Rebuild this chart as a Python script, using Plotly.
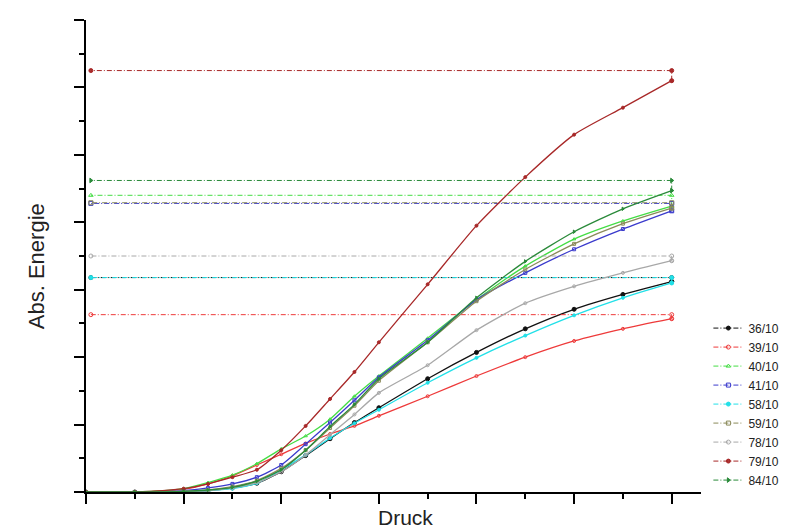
import plotly.graph_objects as go

# Druck (x) sample positions
druck = [0, 0.5, 1.0, 1.25, 1.5, 1.75, 2.0, 2.25, 2.5, 2.75, 3.0, 3.5, 4.0, 4.5, 5.0, 5.5, 6.0]

names = ["36/10", "39/10", "40/10", "41/10", "58/10", "59/10", "78/10", "79/10", "84/10"]

e36 = [0, 0, 0, 0.02, 0.06, 0.13, 0.30, 0.54, 0.79, 1.03, 1.25, 1.68, 2.07, 2.42, 2.71, 2.93, 3.12]
e39 = [0, 0, 0.04, 0.12, 0.24, 0.40, 0.56, 0.72, 0.86, 0.98, 1.13, 1.42, 1.72, 2.00, 2.24, 2.42, 2.57]
e40 = [0, 0, 0.05, 0.14, 0.25, 0.42, 0.64, 0.83, 1.08, 1.42, 1.72, 2.28, 2.85, 3.35, 3.75, 4.02, 4.24]
e41 = [0, 0, 0.02, 0.06, 0.12, 0.22, 0.40, 0.71, 1.03, 1.36, 1.70, 2.25, 2.85, 3.25, 3.60, 3.90, 4.17]
e58 = [0, 0, 0, 0.02, 0.05, 0.13, 0.33, 0.55, 0.80, 1.02, 1.22, 1.62, 1.99, 2.32, 2.62, 2.88, 3.10]
e59 = [0, 0, 0.01, 0.03, 0.08, 0.17, 0.35, 0.62, 0.95, 1.28, 1.65, 2.22, 2.83, 3.30, 3.68, 3.98, 4.21]
e78 = [0, 0, 0.01, 0.02, 0.06, 0.14, 0.30, 0.55, 0.85, 1.15, 1.47, 1.88, 2.40, 2.80, 3.05, 3.25, 3.43]
e79 = [0, 0, 0.05, 0.12, 0.22, 0.33, 0.62, 0.98, 1.38, 1.78, 2.22, 3.08, 3.95, 4.67, 5.30, 5.70, 6.10]
e84 = [0, 0, 0.01, 0.03, 0.07, 0.16, 0.33, 0.62, 0.97, 1.30, 1.68, 2.22, 2.88, 3.42, 3.86, 4.20, 4.47]

# horizontal reference levels
levels = [3.18, 2.63, 4.40, 4.28, 3.18, 4.29, 3.50, 6.25, 4.62]
level_start = 0.05

series = [e36, e39, e40, e41, e58, e59, e78, e79, e84]
colors = ["#111111", "#ee3a3a", "#44dd44", "#3a3acc", "#22e0e8", "#8a8a5a", "#a8a8a8", "#a82828", "#2a8a3a"]
symbols = ["circle", "circle-open", "triangle-up-open", "square-open", "circle", "square-open",
           "circle-open", "circle-dot", "triangle-right"]
curve_marker_size = [4, 3, 3, 3, 3, 3, 3, 3, 3]

fig = go.Figure()
for name, vals, lvl, col, sym, msz in zip(names, series, levels, colors, symbols, curve_marker_size):
    fig.add_trace(go.Scatter(
        x=druck, y=vals, mode="lines+markers", line=dict(color=col, width=1.3, shape="spline", smoothing=0.6),
        marker=dict(symbol=sym, size=msz, color=col, line=dict(color=col, width=1)),
        showlegend=False, legendgroup=name, hoverinfo="skip"))
    fig.add_trace(go.Scatter(
        x=[druck[-1], druck[-1], level_start], y=[vals[-1], lvl, lvl], mode="lines+markers", name=name,
        line=dict(color=col, width=1, dash="5px,2px,1px,2px"),
        marker=dict(symbol=sym, size=4, color=col, line=dict(color=col, width=1)),
        legendgroup=name))

axis_common = dict(showline=True, linecolor="black", linewidth=2, ticks="outside", tickcolor="black",
                   tickwidth=2, ticklen=10, showticklabels=False, showgrid=False, zeroline=False)

fig.update_layout(
    width=788, height=528,
    margin=dict(l=78, r=85, t=12, b=44),
    paper_bgcolor="white", plot_bgcolor="white",
    font=dict(family="Arial, Liberation Sans, sans-serif", color="#222222"),
    xaxis=dict(range=[0, 6.3], dtick=1, tick0=0,
               minor=dict(dtick=0.5, ticks="outside", ticklen=5, tickcolor="black", tickwidth=2),
               **axis_common),
    yaxis=dict(range=[0, 7], dtick=1, tick0=0,
               minor=dict(dtick=0.5, ticks="outside", ticklen=5, tickcolor="black", tickwidth=2),
               **axis_common),
    legend=dict(x=1.012, y=0.378, xanchor="left", yanchor="top", font=dict(size=12, color="#222222"),
                bgcolor="rgba(0,0,0,0)", tracegroupgap=0, itemwidth=30),
    annotations=[
        dict(text="Druck", xref="paper", yref="paper", x=0.52, y=-0.083, xanchor="center", yanchor="bottom",
             showarrow=False, font=dict(size=21, color="#222222")),
        dict(text="Abs. Energie", xref="paper", yref="paper", x=-0.08, y=0.478, xanchor="center",
             yanchor="middle", textangle=-90, showarrow=False, font=dict(size=22, color="#222222")),
    ],
)

fig.write_html("out.html")
